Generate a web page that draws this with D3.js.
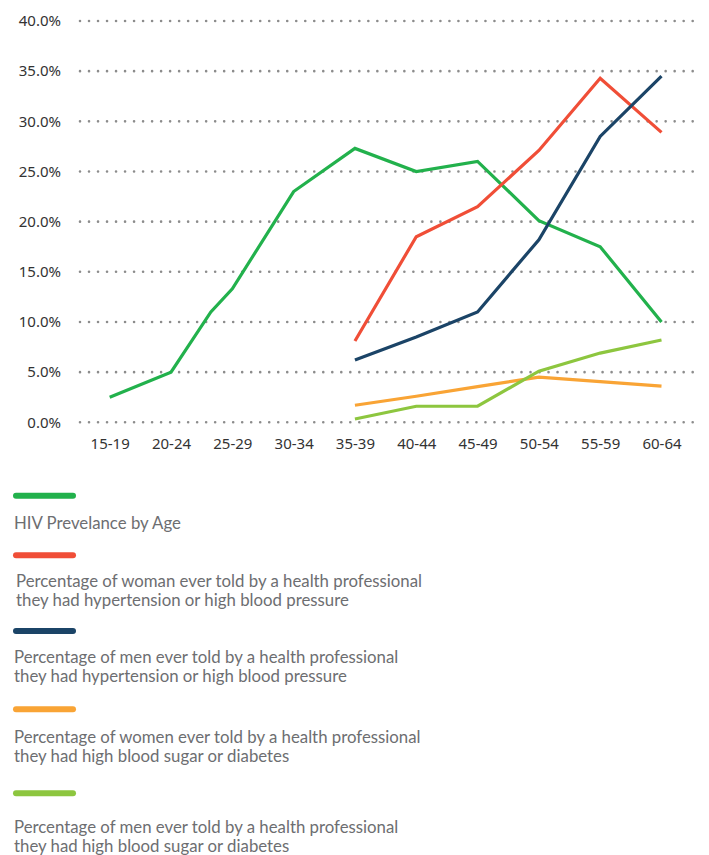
<!DOCTYPE html>
<html>
<head>
    <script src="https://cdn.jsdelivr.net/npm/d3@7"></script>
    <style>
        body { margin: 0; background: #fff; }
        svg { display: block; }
        text { font-family: "Noto Sans", sans-serif; }
    </style>
</head>
<body>
    <svg width="709" height="855"></svg>
    <script>
        // age groups on the x axis
        const ageGroups = ["15-19", "20-24", "25-29", "30-34", "35-39", "40-44", "45-49", "50-54", "55-59", "60-64"];
        const yTicks = [0, 5, 10, 15, 20, 25, 30, 35, 40];

        // HIV line has one extra vertex between 20-24 and 25-29
        const hivIndex  = [0, 1, 1.65, 2, 3, 4, 5, 6, 7, 8, 9];
        const hivValues = [2.5, 5.0, 11.0, 13.3, 23.0, 27.3, 25.0, 26.0, 20.1, 17.5, 10.0];

        // the other series start at 35-39
        const laterIndex = [4, 5, 6, 7, 8, 9];
        const womenHypertension = [8.1, 18.5, 21.5, 27.1, 34.3, 28.9];
        const menHypertension   = [6.2, 8.5, 11.0, 18.2, 28.5, 34.5];
        const womenDiabetes     = [1.7, 2.6, 3.55, 4.5, 4.05, 3.6];
        const menDiabetes       = [0.33, 1.6, 1.6, 5.1, 6.9, 8.2];

        const seriesNames = [
            ["HIV Prevelance by Age"],
            ["Percentage of woman ever told by a health professional", "they had hypertension or high blood pressure"],
            ["Percentage of men ever told by a health professional", "they had hypertension or high blood pressure"],
            ["Percentage of women ever told by a health professional", "they had high blood sugar or diabetes"],
            ["Percentage of men ever told by a health professional", "they had high blood sugar or diabetes"]
        ];
        const colors = ["#22b14c", "#f04e37", "#1b4467", "#f9a435", "#8dc63f"];

        const series = [
            hivIndex.map((x, i) => [x, hivValues[i]]),
            laterIndex.map((x, i) => [x, womenHypertension[i]]),
            laterIndex.map((x, i) => [x, menHypertension[i]]),
            laterIndex.map((x, i) => [x, womenDiabetes[i]]),
            laterIndex.map((x, i) => [x, menDiabetes[i]])
        ];

        const svg = d3.select("svg");

        const x = d3.scaleLinear().domain([0, 9]).range([109.7, 661.5]);
        const y = d3.scaleLinear().domain([0, 40]).range([422.3, 21]);

        // dotted gridlines
        svg.append("g")
            .selectAll("line")
            .data(yTicks)
            .enter()
            .append("line")
                .attr("x1", 80)
                .attr("x2", 700)
                .attr("y1", d => y(d))
                .attr("y2", d => y(d))
                .attr("stroke", "#8c8c8c")
                .attr("stroke-width", 2.6)
                .attr("stroke-linecap", "round")
                .attr("stroke-dasharray", "0.01 9");

        // y axis labels
        const yAxis = svg.append("g")
            .attr("transform", "translate(61,0)")
            .call(d3.axisLeft(y).tickValues(yTicks).tickFormat(d => d.toFixed(1) + "%").tickSize(0).tickPadding(0));
        yAxis.select(".domain").remove();
        yAxis.selectAll("text")
            .attr("font-size", 15)
            .attr("fill", "#333")
            .style("font-family", "Noto Sans, sans-serif");

        // x axis labels
        const xAxis = svg.append("g")
            .attr("transform", "translate(0,438)")
            .call(d3.axisBottom(x).tickValues(d3.range(ageGroups.length)).tickFormat(i => ageGroups[i]).tickSize(0).tickPadding(0));
        xAxis.select(".domain").remove();
        xAxis.selectAll("text")
            .attr("font-size", 15)
            .attr("fill", "#333")
            .style("font-family", "Noto Sans, sans-serif");

        const line = d3.line()
            .x(d => x(d[0]))
            .y(d => y(d[1]));

        svg.append("g")
            .selectAll("path")
            .data(series)
            .enter()
            .append("path")
                .attr("d", line)
                .attr("fill", "none")
                .attr("stroke", (d, i) => colors[i])
                .attr("stroke-width", 3.2)
                .attr("stroke-linejoin", "miter");

        // legend below the chart
        const swatchY = [495.7, 555.3, 631, 709.3, 793.3];
        const textY = [523, 581, 656.7, 737.3, 826.7];
        const textX = [14, 16, 14, 14, 14];

        const legend = svg.append("g")
            .selectAll("g")
            .data(seriesNames)
            .enter()
            .append("g");

        legend.append("line")
            .attr("x1", 16)
            .attr("x2", 73)
            .attr("y1", (d, i) => swatchY[i])
            .attr("y2", (d, i) => swatchY[i])
            .attr("stroke", (d, i) => colors[i])
            .attr("stroke-width", 6)
            .attr("stroke-linecap", "round");

        legend.each(function(lines, i) {
            d3.select(this).selectAll("text")
                .data(lines)
                .enter()
                .append("text")
                    .attr("x", textX[i])
                    .attr("y", (d, j) => textY[i] + j * 19)
                    .attr("dy", "0.35em")
                    .attr("font-size", 16.8)
                    .attr("fill", "#6d6e71")
                    .style("font-family", "Lato, sans-serif")
                    .text(d => d);
        });
    </script>
</body>
</html>
